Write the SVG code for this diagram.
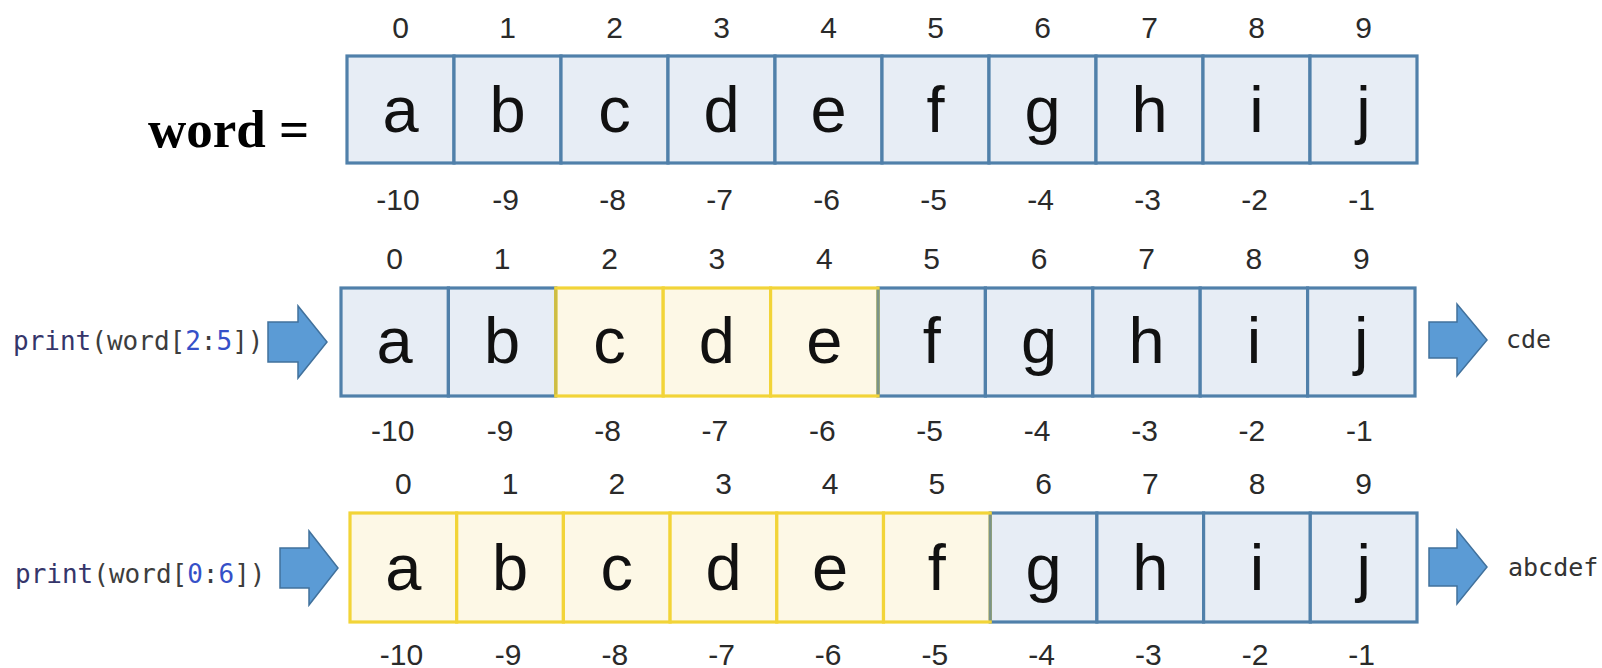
<svg xmlns="http://www.w3.org/2000/svg" width="1602" height="668" viewBox="0 0 1602 668">
<style>
.cb{fill:#e7edf5;stroke:#5080aa;stroke-width:3.2}
.cy{fill:#fdf8e6;stroke:#f2d438;stroke-width:3.2}
.ch{font-family:"Liberation Sans",Arial,sans-serif;font-size:65px;fill:#111;text-anchor:middle}
.idx{font-family:"Liberation Sans",Arial,sans-serif;font-size:30px;fill:#2a2a2a;text-anchor:middle}
.code{font-family:"DejaVu Sans Mono",monospace;font-size:26px;fill:#3d3d3d}
.out{font-family:"DejaVu Sans Mono",monospace;font-size:25px;fill:#333}
.kw{fill:#35356a}
.num{fill:#3550c8}
.arrow{fill:#5b9bd5;stroke:#41719c;stroke-width:1.5}
.mixb{stroke:#7a9488;stroke-width:3.2}
.mixy{stroke:#cdbd45;stroke-width:3.2}
</style>
<rect width="1602" height="668" fill="#ffffff"/>
<g id="word-label"><text x="148" y="147" font-family="Liberation Serif,'Times New Roman',serif" font-weight="bold" font-size="53" fill="#000">word =</text></g>
<g id="row1">
<g id="r1c0"><rect class="cb" x="347" y="56" width="107" height="107"/><text class="ch" x="400.5" y="132">a</text><text class="idx" x="400.5" y="38">0</text><text class="idx" x="398" y="210">-10</text></g>
<g id="r1c1"><rect class="cb" x="454" y="56" width="107" height="107"/><text class="ch" x="507.5" y="132">b</text><text class="idx" x="507.5" y="38">1</text><text class="idx" x="505.5" y="210">-9</text></g>
<g id="r1c2"><rect class="cb" x="561" y="56" width="107" height="107"/><text class="ch" x="614.5" y="132">c</text><text class="idx" x="614.5" y="38">2</text><text class="idx" x="612.5" y="210">-8</text></g>
<g id="r1c3"><rect class="cb" x="668" y="56" width="107" height="107"/><text class="ch" x="721.5" y="132">d</text><text class="idx" x="721.5" y="38">3</text><text class="idx" x="719.5" y="210">-7</text></g>
<g id="r1c4"><rect class="cb" x="775" y="56" width="107" height="107"/><text class="ch" x="828.5" y="132">e</text><text class="idx" x="828.5" y="38">4</text><text class="idx" x="826.5" y="210">-6</text></g>
<g id="r1c5"><rect class="cb" x="882" y="56" width="107" height="107"/><text class="ch" x="935.5" y="132">f</text><text class="idx" x="935.5" y="38">5</text><text class="idx" x="933.5" y="210">-5</text></g>
<g id="r1c6"><rect class="cb" x="989" y="56" width="107" height="107"/><text class="ch" x="1042.5" y="132">g</text><text class="idx" x="1042.5" y="38">6</text><text class="idx" x="1040.5" y="210">-4</text></g>
<g id="r1c7"><rect class="cb" x="1096" y="56" width="107" height="107"/><text class="ch" x="1149.5" y="132">h</text><text class="idx" x="1149.5" y="38">7</text><text class="idx" x="1147.5" y="210">-3</text></g>
<g id="r1c8"><rect class="cb" x="1203" y="56" width="107" height="107"/><text class="ch" x="1256.5" y="132">i</text><text class="idx" x="1256.5" y="38">8</text><text class="idx" x="1254.5" y="210">-2</text></g>
<g id="r1c9"><rect class="cb" x="1310" y="56" width="107" height="107"/><text class="ch" x="1363.5" y="132">j</text><text class="idx" x="1363.5" y="38">9</text><text class="idx" x="1361.5" y="210">-1</text></g>
</g>
<g id="row2">
<g id="r2c0"><rect class="cb" x="341" y="288" width="107.4" height="108"/><text class="ch" x="394.7" y="363">a</text><text class="idx" x="394.7" y="269">0</text><text class="idx" x="392.7" y="441">-10</text></g>
<g id="r2c1"><rect class="cb" x="448.4" y="288" width="107.4" height="108"/><text class="ch" x="502.1" y="363">b</text><text class="idx" x="502.1" y="269">1</text><text class="idx" x="500.1" y="441">-9</text></g>
<g id="r2c5"><rect class="cb" x="878" y="288" width="107.4" height="108"/><text class="ch" x="931.7" y="363">f</text><text class="idx" x="931.7" y="269">5</text><text class="idx" x="929.7" y="441">-5</text></g>
<g id="r2c6"><rect class="cb" x="985.4" y="288" width="107.4" height="108"/><text class="ch" x="1039.1" y="363">g</text><text class="idx" x="1039.1" y="269">6</text><text class="idx" x="1037.1" y="441">-4</text></g>
<g id="r2c7"><rect class="cb" x="1092.8" y="288" width="107.4" height="108"/><text class="ch" x="1146.5" y="363">h</text><text class="idx" x="1146.5" y="269">7</text><text class="idx" x="1144.5" y="441">-3</text></g>
<g id="r2c8"><rect class="cb" x="1200.2" y="288" width="107.4" height="108"/><text class="ch" x="1253.9" y="363">i</text><text class="idx" x="1253.9" y="269">8</text><text class="idx" x="1251.9" y="441">-2</text></g>
<g id="r2c9"><rect class="cb" x="1307.6" y="288" width="107.4" height="108"/><text class="ch" x="1361.3" y="363">j</text><text class="idx" x="1361.3" y="269">9</text><text class="idx" x="1359.3" y="441">-1</text></g>
<g id="r2c2"><rect class="cy" x="555.8" y="288" width="107.4" height="108"/><text class="ch" x="609.5" y="363">c</text><text class="idx" x="609.5" y="269">2</text><text class="idx" x="607.5" y="441">-8</text></g>
<g id="r2c3"><rect class="cy" x="663.2" y="288" width="107.4" height="108"/><text class="ch" x="716.9" y="363">d</text><text class="idx" x="716.9" y="269">3</text><text class="idx" x="714.9" y="441">-7</text></g>
<g id="r2c4"><rect class="cy" x="770.6" y="288" width="107.4" height="108"/><text class="ch" x="824.3" y="363">e</text><text class="idx" x="824.3" y="269">4</text><text class="idx" x="822.3" y="441">-6</text></g>
<line class="mixy" x1="555.8" y1="289.6" x2="555.8" y2="394.4"/>
<line class="mixb" x1="878" y1="289.6" x2="878" y2="394.4"/>
</g>
<g id="row3">
<g id="r3c6"><rect class="cb" x="990.2" y="513" width="106.7" height="109"/><text class="ch" x="1043.6" y="590">g</text><text class="idx" x="1043.6" y="494">6</text><text class="idx" x="1041.6" y="665">-4</text></g>
<g id="r3c7"><rect class="cb" x="1096.9" y="513" width="106.7" height="109"/><text class="ch" x="1150.3" y="590">h</text><text class="idx" x="1150.3" y="494">7</text><text class="idx" x="1148.3" y="665">-3</text></g>
<g id="r3c8"><rect class="cb" x="1203.6" y="513" width="106.7" height="109"/><text class="ch" x="1257" y="590">i</text><text class="idx" x="1257" y="494">8</text><text class="idx" x="1255" y="665">-2</text></g>
<g id="r3c9"><rect class="cb" x="1310.3" y="513" width="106.7" height="109"/><text class="ch" x="1363.7" y="590">j</text><text class="idx" x="1363.7" y="494">9</text><text class="idx" x="1361.7" y="665">-1</text></g>
<g id="r3c0"><rect class="cy" x="350" y="513" width="106.7" height="109"/><text class="ch" x="403.4" y="590">a</text><text class="idx" x="403.4" y="494">0</text><text class="idx" x="401.4" y="665">-10</text></g>
<g id="r3c1"><rect class="cy" x="456.7" y="513" width="106.7" height="109"/><text class="ch" x="510.1" y="590">b</text><text class="idx" x="510.1" y="494">1</text><text class="idx" x="508.1" y="665">-9</text></g>
<g id="r3c2"><rect class="cy" x="563.4" y="513" width="106.7" height="109"/><text class="ch" x="616.8" y="590">c</text><text class="idx" x="616.8" y="494">2</text><text class="idx" x="614.8" y="665">-8</text></g>
<g id="r3c3"><rect class="cy" x="670.1" y="513" width="106.7" height="109"/><text class="ch" x="723.5" y="590">d</text><text class="idx" x="723.5" y="494">3</text><text class="idx" x="721.5" y="665">-7</text></g>
<g id="r3c4"><rect class="cy" x="776.8" y="513" width="106.7" height="109"/><text class="ch" x="830.2" y="590">e</text><text class="idx" x="830.2" y="494">4</text><text class="idx" x="828.2" y="665">-6</text></g>
<g id="r3c5"><rect class="cy" x="883.5" y="513" width="106.7" height="109"/><text class="ch" x="936.9" y="590">f</text><text class="idx" x="936.9" y="494">5</text><text class="idx" x="934.9" y="665">-5</text></g>
<line class="mixb" x1="990.2" y1="514.6" x2="990.2" y2="620.4"/>
</g>
<g id="code1"><text class="code" x="13" y="350"><tspan class="kw">print</tspan>(word[<tspan class="num">2</tspan>:<tspan class="num">5</tspan>])</text></g>
<g id="code2"><text class="code" x="15" y="583"><tspan class="kw">print</tspan>(word[<tspan class="num">0</tspan>:<tspan class="num">6</tspan>])</text></g>
<g id="out1"><text class="out" x="1506" y="348">cde</text></g>
<g id="out2"><text class="out" x="1508" y="576">abcdef</text></g>
<g id="connectors">
<path class="arrow" d="M268,322 L298,322 L298,306 L327,342 L298,378 L298,362 L268,362 Z"/>
<path class="arrow" d="M280,548 L309,548 L309,531 L338,568 L309,605 L309,588 L280,588 Z"/>
<path class="arrow" d="M1429,322 L1457,322 L1457,304 L1487,340 L1457,376 L1457,358 L1429,358 Z"/>
<path class="arrow" d="M1429,548 L1457,548 L1457,530 L1487,567 L1457,604 L1457,586 L1429,586 Z"/>
</g>
</svg>
